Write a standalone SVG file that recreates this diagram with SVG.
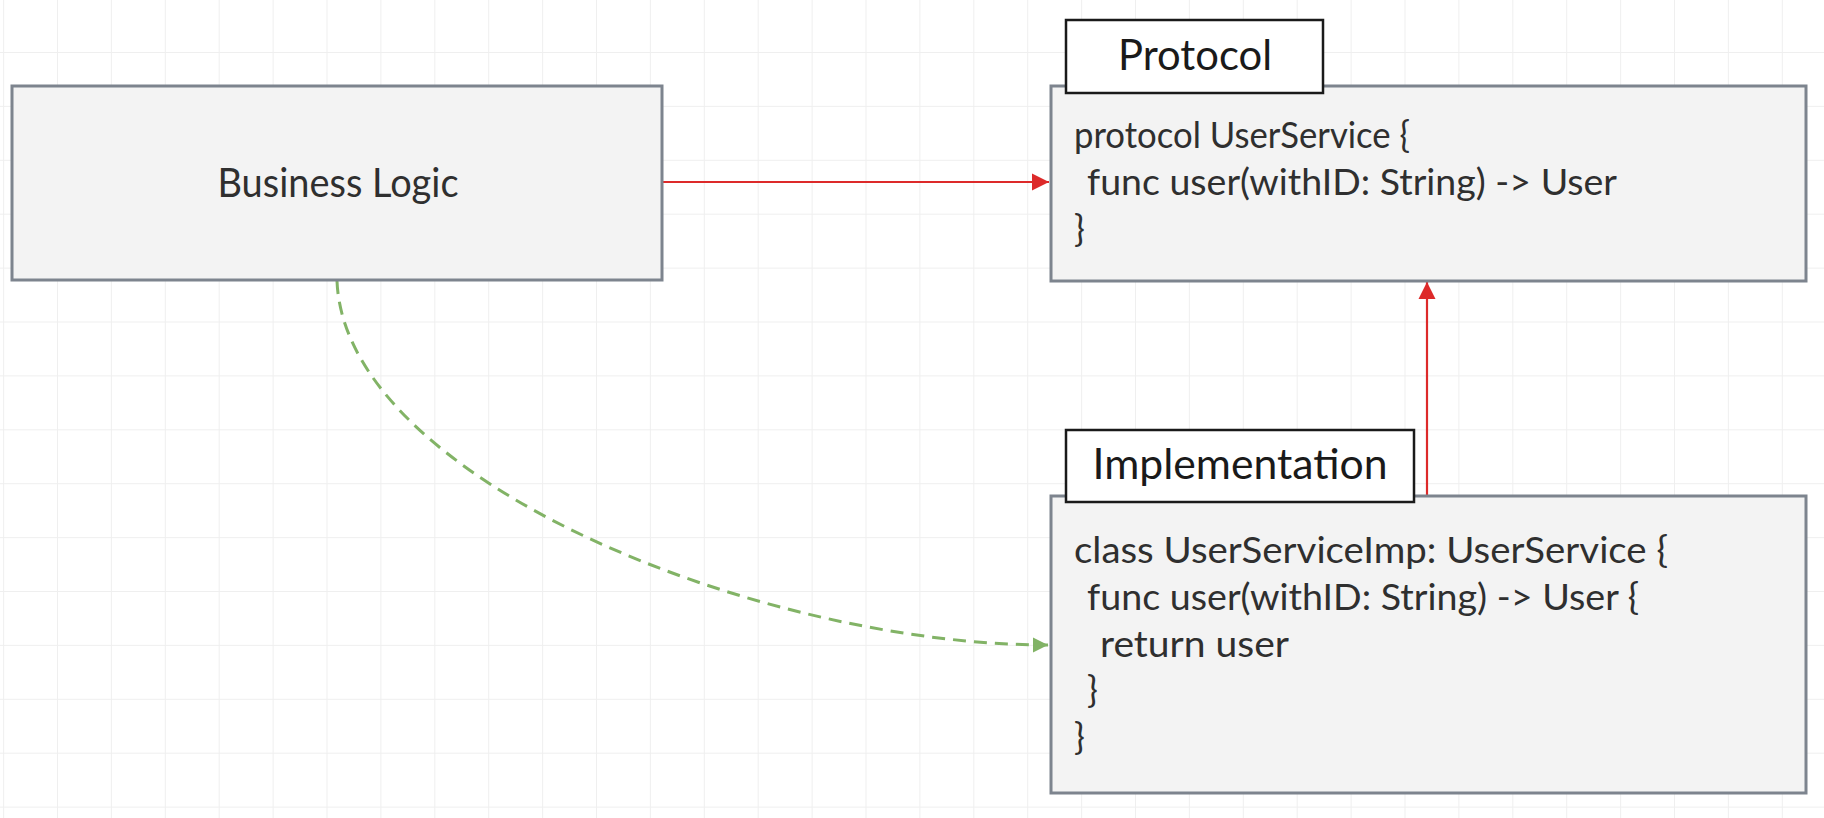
<svg xmlns="http://www.w3.org/2000/svg" width="1824" height="818" viewBox="0 0 1824 818">
<style>
.box{fill:#f3f3f3;stroke:#7d848e;stroke-width:3}
.lbl{fill:#ffffff;stroke:#1a1a1a;stroke-width:2.5}
.t{font-family:Lato,"Open Sans","Liberation Sans",sans-serif;fill:#2f2f2f}
.big{font-size:40px}
.head{font-size:42px;fill:#1a1a1a}
.code{font-size:36px}
.red{fill:none;stroke:#dd2a2a;stroke-width:2.2}
.green{fill:none;stroke:#82b366;stroke-width:3;stroke-dasharray:13 8}
</style>
<defs>
<pattern id="grid" x="3.1" y="-1.9" width="53.9" height="53.9" patternUnits="userSpaceOnUse">
<path d="M0 0H53.9M0 0V53.9" fill="none" stroke="#efefef" stroke-width="2"/>
</pattern>
<marker id="ar" markerWidth="18" markerHeight="18" refX="17" refY="9" orient="auto" markerUnits="userSpaceOnUse">
<path d="M0 0.5L17 9L0 17.5Z" fill="#dd2a2a"/>
</marker>
<marker id="ag" markerWidth="16" markerHeight="16" refX="15" refY="8" orient="auto" markerUnits="userSpaceOnUse">
<path d="M0 0.5L15 8L0 15.5Z" fill="#82b366"/>
</marker>
</defs>
<rect width="1824" height="818" fill="#ffffff"/>
<rect width="1824" height="818" fill="url(#grid)"/>
<g id="connectors">
<path class="red" d="M662 182H1049" marker-end="url(#ar)"/>
<path class="red" d="M1427 496V282" marker-end="url(#ar)"/>
<path class="green" d="M337 281C345 480 760 645 1048 645" marker-end="url(#ag)"/>
</g>
<g id="business-logic">
<rect class="box" x="12" y="86" width="650" height="194"/>
<text class="t big" x="338" y="197" text-anchor="middle" textLength="241" lengthAdjust="spacingAndGlyphs">Business Logic</text>
</g>
<g id="protocol">
<rect class="box" x="1051" y="86" width="755" height="195"/>
<rect class="lbl" x="1066" y="20" width="257" height="73"/>
<text class="t head" x="1195" y="70" text-anchor="middle" textLength="154" lengthAdjust="spacingAndGlyphs">Protocol</text>
<text class="t code" x="1074" y="148" textLength="336" lengthAdjust="spacingAndGlyphs">protocol UserService {</text>
<text class="t code" x="1087" y="195" textLength="530" lengthAdjust="spacingAndGlyphs">func user(withID: String) -&gt; User</text>
<text class="t code" x="1074" y="242">}</text>
</g>
<g id="implementation">
<rect class="box" x="1051" y="496" width="755" height="297"/>
<rect class="lbl" x="1066" y="430" width="348" height="72"/>
<text class="t head" x="1240" y="479" text-anchor="middle" textLength="295" lengthAdjust="spacingAndGlyphs">Implementation</text>
<text class="t code" x="1074" y="563" textLength="594" lengthAdjust="spacingAndGlyphs">class UserServiceImp: UserService {</text>
<text class="t code" x="1087" y="610" textLength="552" lengthAdjust="spacingAndGlyphs">func user(withID: String) -&gt; User {</text>
<text class="t code" x="1100" y="657" textLength="189" lengthAdjust="spacingAndGlyphs">return user</text>
<text class="t code" x="1087" y="703">}</text>
<text class="t code" x="1074" y="750">}</text>
</g>
</svg>
